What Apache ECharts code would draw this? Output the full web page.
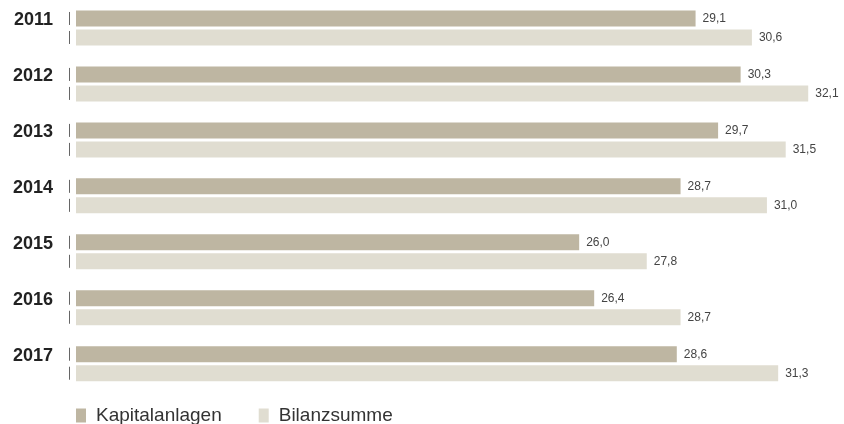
<!DOCTYPE html>
<html>
<head>
<meta charset="utf-8">
<script src="https://cdn.jsdelivr.net/npm/echarts@6/dist/echarts.min.js"></script>
<style>
html,body{margin:0;padding:0;background:#fff;}
#c{width:844px;height:424px;}
</style>
</head>
<body>
<div id="c"></div>
<script>
const years = ['2011','2012','2013','2014','2015','2016','2017'];
const kapitalanlagen = [29.1, 30.3, 29.7, 28.7, 26.0, 26.4, 28.6];
const bilanzsumme = [30.6, 32.1, 31.5, 31.0, 27.8, 28.7, 31.3];
const seriesNames = ['Kapitalanlagen', 'Bilanzsumme'];

const X_MIN = 12.6, X_MAX = 32.6;
const BAR_W = 16, BAR_GAP_PX = 3;
const fmt = v => v.toFixed(1).replace('.', ',');

const chart = echarts.init(document.getElementById('c'), null, {renderer: 'canvas'});
const labelCfg = {
  show: true, position: 'right', distance: 7,
  fontFamily: 'Liberation Sans, Arial, sans-serif', fontSize: 12, color: '#444',
  formatter: p => fmt(p.value)
};
chart.setOption({
  animation: false,
  textStyle: {fontFamily: 'Liberation Sans, Arial, sans-serif'},
  grid: {left: 76, right: 17, top: -0.7, height: 392.4, containLabel: false},
  xAxis: {type: 'value', min: X_MIN, max: X_MAX, show: false},
  yAxis: {
    type: 'category', data: years, inverse: true,
    axisLine: {show: false}, axisTick: {show: false},
    axisLabel: {
      margin: 23, fontSize: 18, fontWeight: 'bold', color: '#222',
      fontFamily: 'Liberation Sans, Arial, sans-serif',
      verticalAlign: 'bottom', lineHeight: 16
    }
  },
  legend: {
    left: 76, top: 406, padding: 0, itemWidth: 10, itemHeight: 14, itemGap: 37,
    icon: 'rect',
    textStyle: {fontSize: 19, color: '#333', padding: [0, 0, 0, 5],
      fontFamily: 'Liberation Sans, Arial, sans-serif'},
    data: seriesNames
  },
  series: [
    {
      name: seriesNames[0], type: 'bar', data: kapitalanlagen,
      barWidth: BAR_W, barGap: (BAR_GAP_PX / BAR_W * 100) + '%',
      itemStyle: {color: '#beb6a2'}, label: labelCfg
    },
    {
      name: seriesNames[1], type: 'bar', data: bilanzsumme,
      barWidth: BAR_W,
      itemStyle: {color: '#e0ddd1'}, label: labelCfg
    },
    {
      type: 'custom', silent: true,
      data: years.map(y => [X_MIN, y]),
      encode: {x: 0, y: 1},
      renderItem: (params, api) => {
        const p = api.coord([api.value(0), api.value(1)]);
        const x = Math.round(p[0] - 7) + 0.5;
        const off = BAR_W / 2 + BAR_GAP_PX / 2;
        const half = 6.5;
        const mk = cy => ({
          type: 'line',
          shape: {x1: x, y1: cy - half, x2: x, y2: cy + half},
          style: {stroke: '#666', lineWidth: 1}
        });
        return {type: 'group', children: [mk(p[1] - off), mk(p[1] + off)]};
      }
    }
  ]
});
</script>
</body>
</html>
